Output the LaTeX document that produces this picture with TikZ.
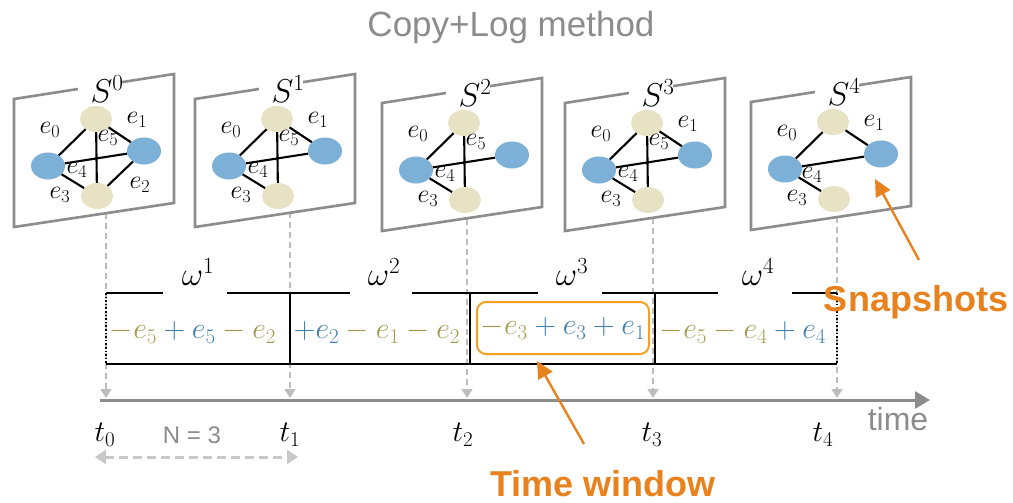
\documentclass[tikz,border=0pt]{standalone}
\usepackage{fix-cm}
\usepackage{fontspec}
\newfontfamily\arial{Liberation Sans}
\usetikzlibrary{arrows.meta,shapes.geometric}
\definecolor{framegray}{HTML}{8C8C8C}
\definecolor{nodeyel}{HTML}{E6E2C3}
\definecolor{nodeblue}{HTML}{7DB0D6}
\definecolor{txtolive}{HTML}{A39B4F}
\definecolor{txtblue}{HTML}{3F7EAE}
\definecolor{dashgray}{HTML}{BDBDBD}
\definecolor{lightgray2}{HTML}{C8C8C8}
\definecolor{orangeA}{HTML}{E8821E}
\definecolor{orangeB}{HTML}{F5A021}
\newcommand\snappanel[3]{%
  \begin{scope}[shift={(#2,#3)}]
    \draw[panelframe] (0,0) -- (160,-25) -- (160,104) -- (0,128) -- cycle;
    \node[fill=white, minimum width=44, minimum height=16, inner sep=0] at (86,-13) {};
    \node[ynode] (#1t) at (82,20) {};
    \node[bnode] (#1l) at (34,67) {};
    \node[bnode] (#1r) at (130,52) {};
    \node[ynode] (#1b) at (83,97) {};
  \end{scope}}
\begin{document}
\begin{tikzpicture}[x=1pt,y=-1pt,
  panelframe/.style={draw=framegray, fill=white, line width=2.6pt, line join=miter},
  ynode/.style={ellipse, fill=nodeyel, minimum width=32, minimum height=26, inner sep=0},
  bnode/.style={ellipse, fill=nodeblue, minimum width=34, minimum height=27, inner sep=0},
  edge/.style={black, line width=2.1pt},
  elab/.style={font=\fontsize{26}{28}\selectfont, inner sep=0},
  slab/.style={font=\fontsize{33}{36}\selectfont, inner sep=0},
  wlab/.style={font=\fontsize{33}{36}\selectfont, inner sep=0},
  tlab/.style={font=\fontsize{30}{33}\selectfont, inner sep=0},
  expr/.style={font=\fontsize{30}{33}\selectfont, inner sep=0},
  vdash/.style={dashgray, line width=1.4pt, dash pattern=on 6pt off 4pt, -{Triangle[width=11pt,length=9pt]}},
  winline/.style={black, line width=2.2pt},
  oarrow/.style={orangeA, line width=2.4pt, -{Triangle[width=16pt,length=17pt]}},
  olab/.style={text=orangeA, font=\arial\bfseries\fontsize{36}{40}\selectfont, inner sep=0}
]
\useasboundingbox (0,0) rectangle (1013,503);

% title
\node[text=framegray, font=\arial\fontsize{35}{40}\selectfont, inner sep=0] (title) at (511,27) {Copy+Log method};

% dashed drop lines and timeline
\coordinate (d0) at (106,213); \coordinate (a0) at (106,398);
\coordinate (d1) at (290,212); \coordinate (a1) at (290,398);
\coordinate (d2) at (467,219); \coordinate (a2) at (467,398);
\coordinate (d3) at (653,218); \coordinate (a3) at (653,398);
\coordinate (d4) at (837,217); \coordinate (a4) at (837,398);
\foreach \i in {0,...,4} { \draw[vdash] (d\i) -- (a\i); }
\coordinate (tl0) at (100,400); \coordinate (tl1) at (930,400);
\draw[framegray, line width=3pt, -{Triangle[width=17pt,length=15pt]}] (tl0) -- (tl1);

% panels
\snappanel{pa}{14}{99}
\snappanel{pb}{195}{99}
\snappanel{pc}{382}{103}
\snappanel{pd}{565}{103}
\snappanel{pe}{751}{102}

% S^0
\draw[edge] (pal) -- (pat); \draw[edge] (pat) -- (par); \draw[edge] (pat) -- (pab);
\draw[edge] (pal) -- (par); \draw[edge] (par) -- (pab); \draw[edge] (pal) -- (pab);
\node[slab] (sa) at (107,89) {$S^0$};
\node[elab] (ea0) at (50,130) {$e_0$};
\node[elab] (ea1) at (137,120) {$e_1$};
\node[elab] (ea5) at (108,138) {$e_5$};
\node[elab] (ea4) at (77,170) {$e_4$};
\node[elab] (ea2) at (140,185) {$e_2$};
\node[elab] (ea3) at (60,195) {$e_3$};

% S^1
\draw[edge] (pbl) -- (pbt); \draw[edge] (pbt) -- (pbr); \draw[edge] (pbt) -- (pbb);
\draw[edge] (pbl) -- (pbr); \draw[edge] (pbl) -- (pbb);
\node[slab] (sb) at (288,89) {$S^1$};
\node[elab] (eb0) at (231,130) {$e_0$};
\node[elab] (eb1) at (318,120) {$e_1$};
\node[elab] (eb5) at (289,138) {$e_5$};
\node[elab] (eb4) at (258,170) {$e_4$};
\node[elab] (eb3) at (241,195) {$e_3$};

% S^2
\draw[edge] (pcl) -- (pct); \draw[edge] (pct) -- (pcb);
\draw[edge] (pcl) -- (pcr); \draw[edge] (pcl) -- (pcb);
\node[slab] (sc) at (475,93) {$S^2$};
\node[elab] (ec0) at (418,134) {$e_0$};
\node[elab] (ec5) at (476,142) {$e_5$};
\node[elab] (ec4) at (445,174) {$e_4$};
\node[elab] (ec3) at (428,199) {$e_3$};

% S^3
\draw[edge] (pdl) -- (pdt); \draw[edge] (pdt) -- (pdr); \draw[edge] (pdt) -- (pdb);
\draw[edge] (pdl) -- (pdr); \draw[edge] (pdl) -- (pdb);
\node[slab] (sd) at (658,93) {$S^3$};
\node[elab] (ed0) at (601,134) {$e_0$};
\node[elab] (ed1) at (688,124) {$e_1$};
\node[elab] (ed5) at (659,142) {$e_5$};
\node[elab] (ed4) at (628,174) {$e_4$};
\node[elab] (ed3) at (611,199) {$e_3$};

% S^4
\draw[edge] (pel) -- (pet); \draw[edge] (pet) -- (per);
\draw[edge] (pel) -- (per); \draw[edge] (pel) -- (peb);
\node[slab] (se) at (844,92) {$S^4$};
\node[elab] (ee0) at (787,133) {$e_0$};
\node[elab] (ee1) at (874,123) {$e_1$};
\node[elab] (ee4) at (812,175) {$e_4$};
\node[elab] (ee3) at (797,198) {$e_3$};

% windows
\draw[winline] (106,293) -- (837,293);
\draw[winline] (106,364) -- (837,364);
\draw[black, line width=1.6pt, dotted] (106,293) -- (106,364);
\draw[black, line width=1.6pt, dotted] (837,293) -- (837,364);
\draw[black, line width=1.5pt] (290,293) -- (290,364);
\draw[black, line width=2.2pt] (470,293) -- (470,364);
\draw[black, line width=2pt] (655,293) -- (655,364);
\foreach \x/\w in {195/64, 381/62, 570/64, 755/74} {
  \node[fill=white, minimum width=\w, minimum height=8, inner sep=0] at (\x,293) {};
}
\node[wlab] (w1) at (198,272) {$\omega^1$};
\node[wlab] (w2) at (384,272) {$\omega^2$};
\node[wlab] (w3) at (572,272) {$\omega^3$};
\node[wlab] (w4) at (758,272) {$\omega^4$};

\node[expr] (x1) at (193,332) {${}\textcolor{txtolive}{-e_5}\textcolor{txtblue}{{}+e_5}\textcolor{txtolive}{{}-e_2}$};
\node[expr] (x2) at (377,332) {${}\textcolor{txtblue}{+e_2}\textcolor{txtolive}{{}-e_1}\textcolor{txtolive}{{}-e_2}$};
\node[expr, draw=orangeB, line width=2pt, rounded corners=9pt, minimum width=172, minimum height=52, inner sep=0] (x3) at (563,328) {${}\textcolor{txtolive}{-e_3}\textcolor{txtblue}{{}+e_3}\textcolor{txtblue}{{}+e_1}$};
\node[expr] (x4) at (743,332) {${}\textcolor{txtolive}{-e_5}\textcolor{txtolive}{{}-e_4}\textcolor{txtblue}{{}+e_4}$};

% time labels
\node[tlab] (t0) at (105,435) {$t_0$};
\node[tlab] (t1) at (290,435) {$t_1$};
\node[tlab] (t2) at (463,435) {$t_2$};
\node[tlab] (t3) at (652,435) {$t_3$};
\node[tlab] (t4) at (823,435) {$t_4$};
\node[text=framegray, font=\arial\fontsize{32}{36}\selectfont, inner sep=0] (time) at (898,419) {time};
\node[text=framegray, font=\arial\fontsize{24}{28}\selectfont, inner sep=0] (N) at (192,435) {N = 3};
\coordinate (n0) at (95,457); \coordinate (n1) at (298,457);
\draw[lightgray2, line width=3pt, dash pattern=on 9pt off 5pt, {Triangle[width=14pt,length=11pt]}-{Triangle[width=14pt,length=11pt]}] (n0) -- (n1);

% orange annotations
\node[olab] (snap) at (916,302) {Snapshots};
\node[olab] (tw) at (603,484) {Time window};
\coordinate (snapTail) at (919,260); \coordinate (snapHead) at (875,179);
\draw[oarrow] (snapTail) -- (snapHead);
\coordinate (twTail) at (584,444); \coordinate (twHead) at (537,361);
\draw[oarrow] (twTail) -- (twHead);
\end{tikzpicture}
\end{document}
